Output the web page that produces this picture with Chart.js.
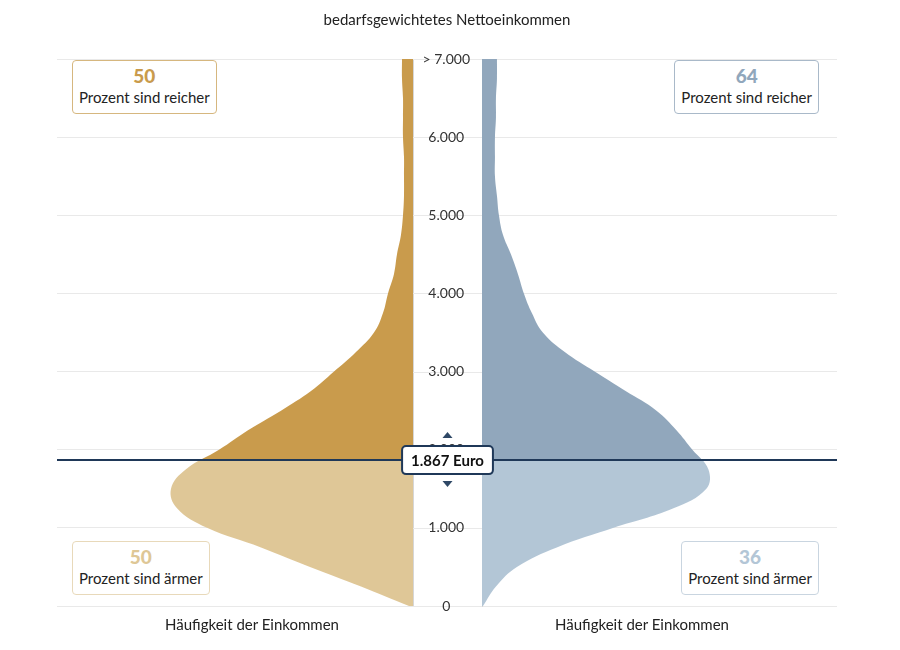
<!DOCTYPE html>
<html><head><meta charset="utf-8">
<script src="https://cdn.jsdelivr.net/npm/chart.js@4.4.0/dist/chart.umd.min.js"></script>
<style>
html,body{margin:0;padding:0;background:#fff;}
#wrap{position:relative;width:900px;height:650px;font-family:Lato,"Noto Sans",sans-serif;color:#222;overflow:hidden;}
canvas{position:absolute;left:0;top:0;}
.t{position:absolute;white-space:nowrap;transform:translateX(-50%);font-size:15px;color:#222;}
.box{position:absolute;border:1px solid;border-radius:4px;background:#fff;text-align:center;padding:0 6px;height:54px;box-sizing:border-box;}
.box b{display:block;font-size:19px;line-height:22px;margin-top:4px;font-weight:900;}
.box span{display:block;font-size:15px;line-height:20px;color:#222;}
</style></head>
<body>
<div id="wrap">
  <canvas id="leftChart" width="900" height="650"></canvas>
  <canvas id="rightChart" width="900" height="650"></canvas>
  <div class="t" style="left:447px;top:10px;">bedarfsgewichtetes Nettoeinkommen</div>
  <div class="t" style="left:252px;top:615px;">Häufigkeit der Einkommen</div>
  <div class="t" style="left:642px;top:615px;">Häufigkeit der Einkommen</div>
  <div id="boxLT" class="box" style="left:72px;top:60px;border-color:#D6B77F;"><b style="color:#C99B4C">50</b><span>Prozent sind reicher</span></div>
  <div id="boxLB" class="box" style="left:72px;top:541px;border-color:#E8D9BA;"><b style="color:#DEC796">50</b><span>Prozent sind ärmer</span></div>
  <div id="boxRT" class="box" style="right:81px;top:60px;border-color:#A9B9C9;"><b style="color:#91A7BC">64</b><span>Prozent sind reicher</span></div>
  <div id="boxRB" class="box" style="right:81px;top:541px;border-color:#C9D5E0;"><b style="color:#B3C6D6">36</b><span>Prozent sind ärmer</span></div>
</div>
<script>
// ---- data ----
const incomeLevels = [0,250,500,750,1000,1250,1500,1750,2000,2250,2500,2750,3000,3250,3500,3750,4000,4250,4500,4750,5000,5250,5500,5750,6000,6250,6500,6750,7000];
const leftFreq  = [4,52,103,152,206,236,242,227,194,165,132,102,79,57,39,30,25,19,16,12,10,9,9,9,10,10,10,11,11];
const rightFreq = [1,14,35,75,132,192,225,227,211,195,175,144,113,83,61,50,42,36,29,21,17,15,13,13,13,14,14,15,15];
const tickValues = [0,1000,2000,3000,4000,5000,6000,7000];
const tickLabels = ['0','1.000','2.000','3.000','4.000','5.000','6.000','> 7.000'];
const medianIncome = 1867;
const medianLabel = '1.867 Euro';
const freqMax = 356;

const leftColors = ['#C99B4C', '#DFC797'];   // above, below median
const rightColors = ['#91A7BC', '#B3C6D6'];
const gridColor = '#e9e9e9';

function splitFill(colors) {
  return (ctx) => {
    const chart = ctx.chart;
    const area = chart.chartArea;
    if (!area) return colors[0];
    const yp = chart.scales.y.getPixelForValue(medianIncome);
    const g = chart.ctx.createLinearGradient(0, area.top, 0, area.bottom);
    const t = Math.min(1, Math.max(0, (yp - area.top) / (area.bottom - area.top)));
    g.addColorStop(0, colors[0]);
    g.addColorStop(t, colors[0]);
    g.addColorStop(t, colors[1]);
    g.addColorStop(1, colors[1]);
    return g;
  };
}

function violinData(freq) {
  return incomeLevels.map((v, i) => ({ x: freq[i], y: v }));
}

const setTicks = (s) => { s.ticks = tickValues.map(v => ({ value: v })); };

const leftChart = new Chart(document.getElementById('leftChart'), {
  type: 'line',
  data: { datasets: [{
    data: violinData(leftFreq),
    fill: 'origin',
    backgroundColor: splitFill(leftColors),
    borderWidth: 0,
    pointRadius: 0,
    tension: 0.4
  }]},
  options: {
    responsive: false, animation: false, indexAxis: 'y',
    layout: { padding: { left: 57, right: 487, top: 59, bottom: 44 } },
    plugins: { legend: { display: false }, tooltip: { enabled: false } },
    scales: {
      x: { type: 'linear', reverse: true, min: 0, max: freqMax, display: false },
      y: { type: 'linear', position: 'right', min: 0, max: 7000,
           afterBuildTicks: setTicks,
           ticks: { display: false },
           grid: { color: gridColor, drawTicks: false },
           border: { display: true, color: '#d6d6d6' } }
    }
  }
});

const gapGrid = {
  id: 'gapGrid',
  beforeDraw(chart) {
    const ys = chart.scales.y;
    const c = chart.ctx;
    c.save();
    c.strokeStyle = gridColor;
    c.lineWidth = 1;
    tickValues.forEach(v => {
      const p = Math.round(ys.getPixelForValue(v)) + 0.5;
      c.beginPath();
      c.moveTo(ys.left, p);
      c.lineTo(chart.chartArea.left, p);
      c.stroke();
    });
    c.restore();
  }
};

const medianMarker = {
  id: 'medianMarker',
  afterDatasetsDraw(chart) {
    const ys = chart.scales.y;
    const c = chart.ctx;
    const y = ys.getPixelForValue(medianIncome);
    const x0 = leftChart.chartArea ? leftChart.chartArea.left : 57;
    const x1 = chart.chartArea.right;
    const cx = (ys.left + ys.right) / 2;
    c.save();
    c.strokeStyle = '#1F3858';
    c.lineWidth = 2;
    c.beginPath(); c.moveTo(x0, y); c.lineTo(x1, y); c.stroke();
    // arrows
    c.fillStyle = '#2E4866';
    c.beginPath(); c.moveTo(cx - 5, y - 22); c.lineTo(cx + 5, y - 22); c.lineTo(cx, y - 28); c.closePath(); c.fill();
    c.beginPath(); c.moveTo(cx - 5, y + 21); c.lineTo(cx + 5, y + 21); c.lineTo(cx, y + 27); c.closePath(); c.fill();
    // box
    c.font = 'bold 15px Lato, "Noto Sans", sans-serif';
    const w = c.measureText(medianLabel).width + 18;
    const h = 28;
    const bx = cx - w / 2, by = y - h / 2;
    c.fillStyle = '#fff';
    c.beginPath();
    if (c.roundRect) c.roundRect(bx, by, w, h, 4); else c.rect(bx, by, w, h);
    c.fill();
    c.lineWidth = 2;
    c.strokeStyle = '#1F3858';
    c.stroke();
    c.fillStyle = '#111';
    c.textAlign = 'center';
    c.textBaseline = 'middle';
    c.fillText(medianLabel, cx, y + 1);
    c.restore();
  }
};

const rightChart = new Chart(document.getElementById('rightChart'), {
  type: 'line',
  data: { datasets: [{
    data: violinData(rightFreq),
    fill: 'origin',
    backgroundColor: splitFill(rightColors),
    borderWidth: 0,
    pointRadius: 0,
    tension: 0.4
  }]},
  options: {
    responsive: false, animation: false, indexAxis: 'y',
    layout: { padding: { left: 413, right: 63, top: 59, bottom: 44 } },
    plugins: { legend: { display: false }, tooltip: { enabled: false } },
    scales: {
      x: { type: 'linear', min: 0, max: freqMax, display: false },
      y: { type: 'linear', position: 'left', min: 0, max: 7000,
           afterBuildTicks: setTicks,
           afterFit: (s) => { s.width = 69; },
           ticks: { padding: 12, crossAlign: 'center', color: '#333',
                    font: { family: 'Lato', size: 14 },
                    callback: (v) => tickLabels[tickValues.indexOf(v)] },
           grid: { color: gridColor, drawTicks: false },
           border: { display: true, color: '#d6d6d6' } }
    }
  },
  plugins: [gapGrid, medianMarker]
});
</script>
</body></html>
